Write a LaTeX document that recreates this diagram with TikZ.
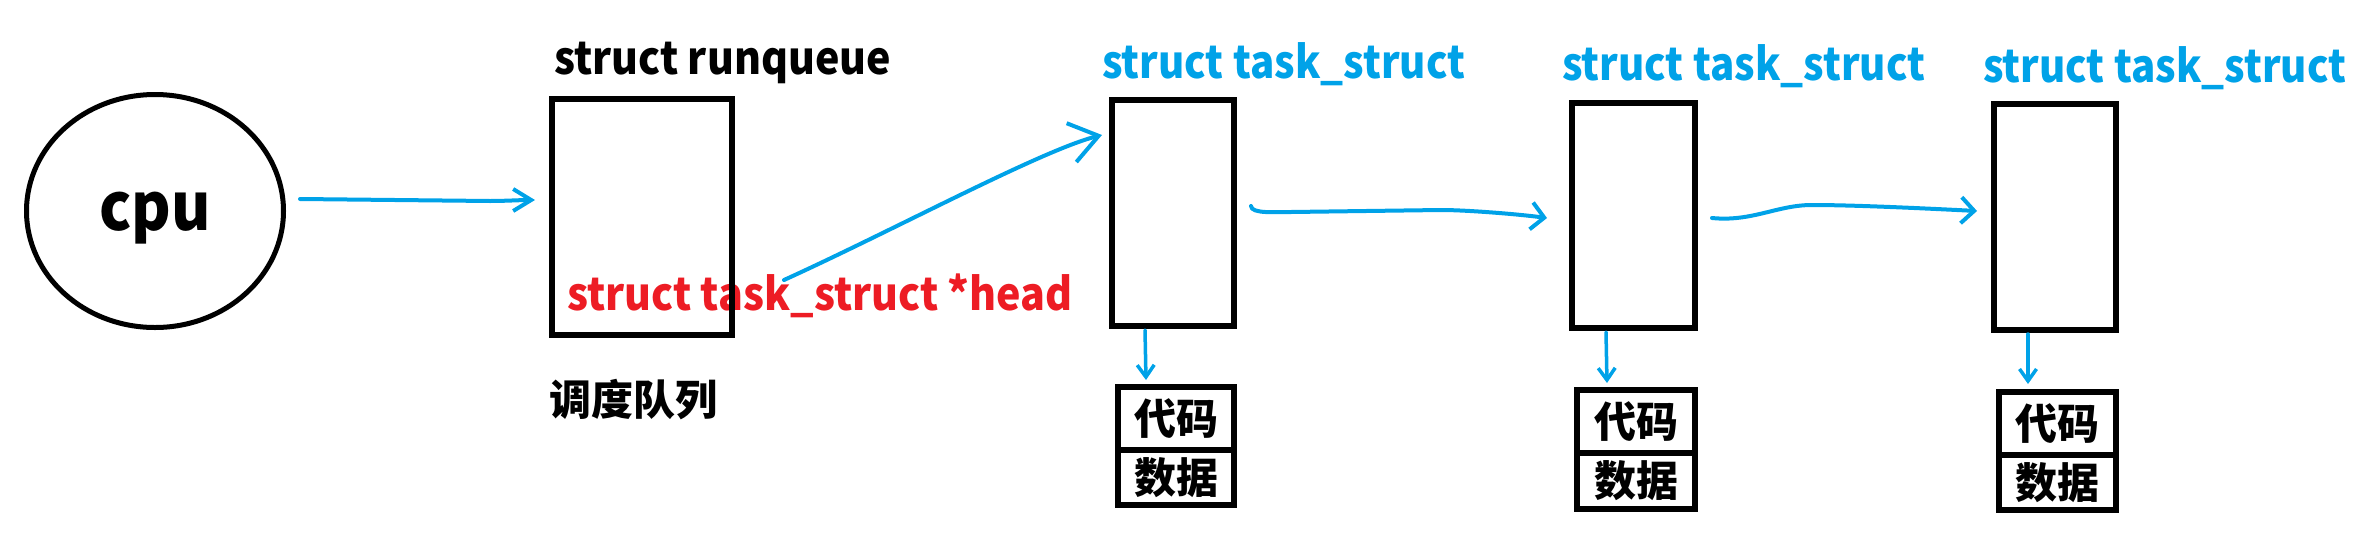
\documentclass[tikz,border=0pt]{standalone}
\usepackage{fontspec}
\setmainfont{Noto Sans CJK SC}
\newfontfamily\latf{Noto Sans CJK SC}[FakeStretch=0.915]
\newfontfamily\latg{Noto Sans CJK SC}[FakeStretch=0.895]
\usetikzlibrary{arrows.meta,shapes.geometric,calc}
\definecolor{pblue}{HTML}{00A2E8}
\definecolor{pred}{HTML}{ED1C24}
\begin{document}
\begin{tikzpicture}[x=1pt,y=-1pt,
  box/.style={draw,line width=6pt,rectangle,inner sep=0pt},
  title/.style={anchor=base west,inner sep=0pt,font=\latf\fontsize{45}{50}\selectfont\bfseries},
  btitle/.style={title,text=pblue,font=\latg\fontsize{45}{50}\selectfont\bfseries},
  cjk/.style={font=\fontsize{42}{46}\selectfont\bfseries},
  conn/.style={draw=pblue,line width=4pt,line cap=round,line join=round},
  dconn/.style={draw=pblue,line width=3.5pt,line cap=round,line join=round,-{Straight Barb[length=12pt,width=17pt]}},
]
\useasboundingbox (0,0) rectangle (2372,544);
% cpu
\node[draw,ellipse,line width=5pt,minimum width=257pt,minimum height=233pt,inner sep=0pt,text depth=0pt,font=\latf\fontsize{66}{70}\selectfont\bfseries] (cpu) at (155,211) {cpu};
% run queue
\node[title,text=pred] (head) at (567,310) {struct task\_struct *head};
\node[box,minimum width=180pt,minimum height=236pt] (rq) at (642,217) {};
\node[title] (rqt) at (554,74) {struct runqueue};
\node[cjk,anchor=west,inner sep=0pt] (sq) at (549,400) {调度队列};
% task structs
\node[box,minimum width=122pt,minimum height=226pt] (t1) at (1173,213) {};
\node[box,minimum width=123pt,minimum height=225pt] (t2) at (1633.5,215.5) {};
\node[box,minimum width=122pt,minimum height=226pt] (t3) at (2055,217) {};
\node[btitle] (tt1) at (1102,78) {struct task\_struct};
\node[btitle] (tt2) at (1562,80) {struct task\_struct};
\node[btitle] (tt3) at (1983,82) {struct task\_struct};
% code / data boxes
\node[box,cjk,minimum width=116pt,minimum height=63pt] (c1) at (1176,418.5) {代码};
\node[box,cjk,anchor=north,minimum width=116pt,minimum height=55pt] (d1) at ($(c1.south)+(0,-6)$) {数据};
\node[box,cjk,minimum width=118pt,minimum height=63pt] (c2) at (1636,421.5) {代码};
\node[box,cjk,anchor=north,minimum width=118pt,minimum height=56pt] (d2) at ($(c2.south)+(0,-6)$) {数据};
\node[box,cjk,minimum width=117pt,minimum height=63pt] (c3) at (2057.5,423.5) {代码};
\node[box,cjk,anchor=north,minimum width=117pt,minimum height=55pt] (d3) at ($(c3.south)+(0,-6)$) {数据};
% connectors
\draw[conn,-{Straight Barb[length=18pt,width=22pt]}] ($(cpu.east)+(14,-12)$) -- ++(190,2) .. controls +(15,0) and +(-15,0) .. ($(rq.west)+(-14,-17)$);
\draw[conn,-{Straight Barb[length=28pt,width=40pt]}] ($(rq.east)+(49,63)$) .. controls +(110,-50) and +(-60,15) .. ($(t1.west)+(-7,-78)$);
\draw[conn,-{Straight Barb[length=13pt,width=27pt]}] ($(t1.east)+(14,-7)$) .. controls +(0,8) and +(-15,0) .. ++(40,6) -- ++(150,-2) .. controls +(25,0) and +(-30,-4) .. ($(t2.west)+(-22,2.5)$);
\draw[conn,-{Straight Barb[length=13pt,width=26pt]}] ($(t2.east)+(14,2.5)$) .. controls +(40,4) and +(-35,0) .. ++(100,-13) .. controls +(40,0) and +(-60,-3) .. ($(t3.west)+(-14,-6)$);
\draw[dconn] ($(t1.south)+(-28,1)$) -- ($(c1.north)+(-30,-4)$);
\draw[dconn] ($(t2.south)+(-27.5,1)$) -- ($(c2.north)+(-29,-4)$);
\draw[dconn] ($(t3.south)+(-27,1)$) -- ($(c3.north)+(-29.5,-5)$);
\end{tikzpicture}
\end{document}
